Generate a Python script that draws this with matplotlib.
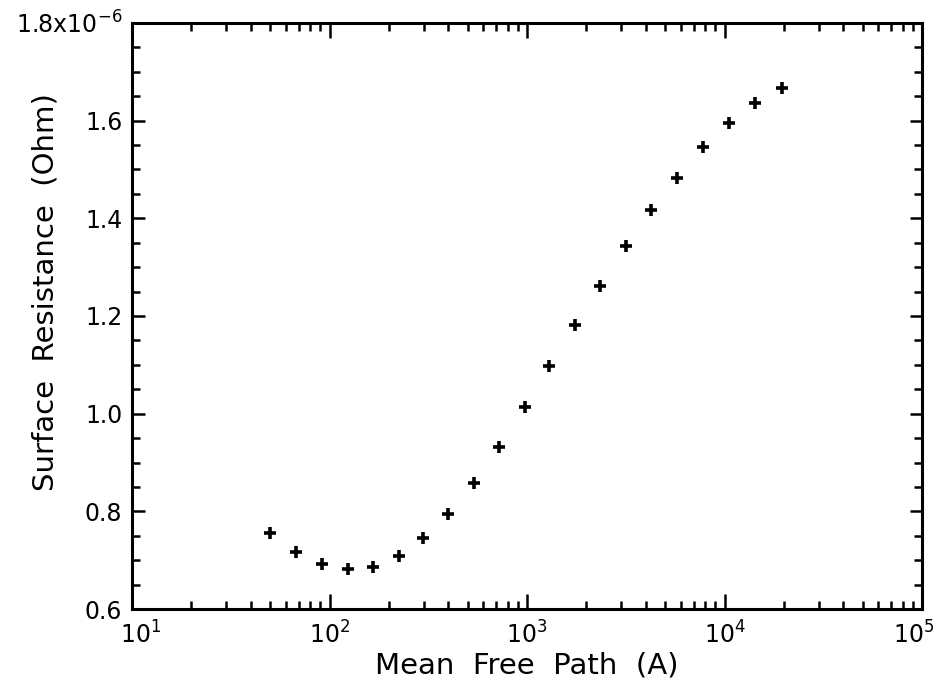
import numpy as np
import matplotlib
matplotlib.use("Agg")
from matplotlib import pyplot as plt
from matplotlib import transforms
from matplotlib.ticker import FixedLocator, LogLocator, NullFormatter

# mean free path (Angstrom) and surface resistance (units of 1e-6 Ohm)
mfp = [50, 68, 92, 124, 166, 225, 297, 398, 539, 721, 977, 1291, 1750,
       2342, 3171, 4246, 5749, 7782, 10540, 14270, 19540]
rs = [0.755, 0.716, 0.692, 0.681, 0.687, 0.709, 0.745, 0.795, 0.859, 0.932,
      1.013, 1.098, 1.182, 1.262, 1.343, 1.417, 1.483, 1.546, 1.595, 1.636, 1.667]

yticks = [0.6, 0.8, 1.0, 1.2, 1.4, 1.6, 1.8]
ytick_labels = ["0.6", "0.8", "1.0", "1.2", "1.4", "1.6", r"1.8x10$^{-6}$"]
xticks = [1e1, 1e2, 1e3, 1e4, 1e5]
xtick_labels = [r"10$^{1}$", r"10$^{2}$", r"10$^{3}$", r"10$^{4}$", r"10$^{5}$"]

plt.rcParams['font.family'] = ['DejaVu Sans']
plt.rcParams['mathtext.fontset'] = 'dejavusans'

fig = plt.figure(figsize=(9.37, 6.8), dpi=100)
ax = fig.add_axes([0.1409, 0.1044, 0.8431, 0.8618])

ax.plot(mfp, rs, linestyle='none', marker='+', color='black',
        markersize=9, markeredgewidth=2.6)

ax.set_xscale('log')
ax.set_xlim(1e1, 1e5)
ax.set_ylim(0.6, 1.8)

ax.set_xticks(xticks)
ax.set_xticklabels(xtick_labels)
ax.xaxis.set_minor_locator(LogLocator(base=10, subs=np.arange(2, 10)))
ax.xaxis.set_minor_formatter(NullFormatter())
ax.set_yticks(yticks)
ax.set_yticklabels(ytick_labels)
ax.yaxis.set_minor_locator(FixedLocator(np.arange(0.6, 1.8001, 0.05)))

for s in ax.spines.values():
    s.set_linewidth(2.2)

ax.tick_params(axis='both', which='both', direction='in', top=True, right=True,
               width=1.8, colors='black', labelsize=17)
ax.tick_params(axis='x', which='major', length=11, pad=9)
ax.tick_params(axis='x', which='minor', length=6)
ax.tick_params(axis='y', which='major', length=9, pad=7)
ax.tick_params(axis='y', which='minor', length=6)

# end x labels are pulled in from the axis ends like the original
xl = ax.get_xticklabels()
xl[0].set_transform(xl[0].get_transform() +
                    transforms.ScaledTranslation(9 / 100, 0, fig.dpi_scale_trans))
xl[-1].set_transform(xl[-1].get_transform() +
                     transforms.ScaledTranslation(-8 / 100, 0, fig.dpi_scale_trans))

ax.set_xlabel("Mean  Free  Path  (A)", fontsize=21)
ax.xaxis.set_label_coords(0.5, -0.072)
ax.xaxis.label.set_va('top')
ax.set_ylabel("Surface  Resistance  (Ohm)", fontsize=21)
ax.yaxis.set_label_coords(-0.109, 0.54)
ax.yaxis.label.set_va('center')

fig.savefig("out.png", dpi=100)
